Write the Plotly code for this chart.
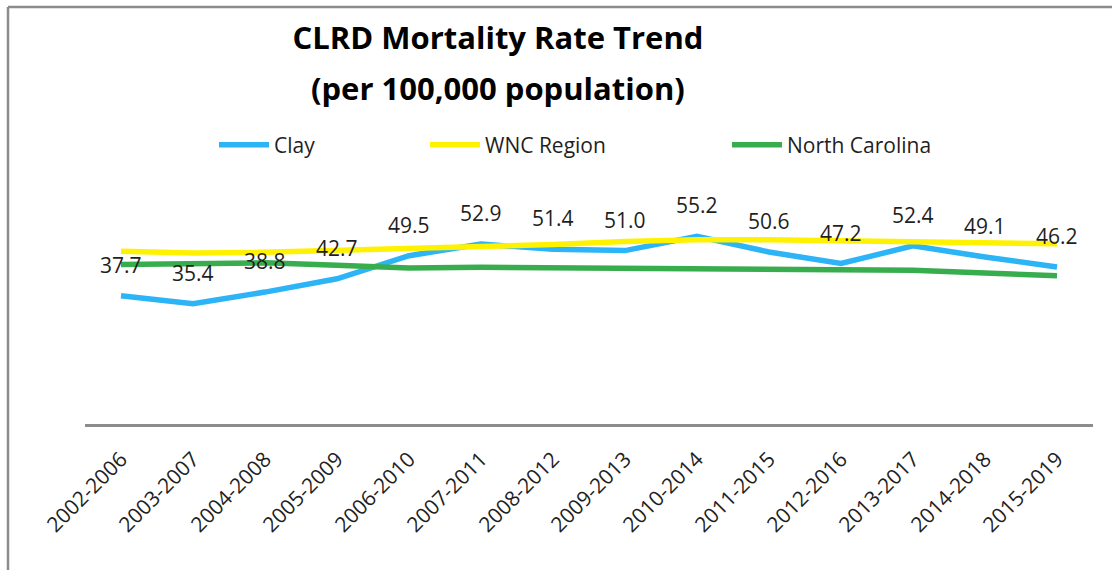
import plotly.graph_objects as go

periods = ["2002-2006", "2003-2007", "2004-2008", "2005-2009", "2006-2010", "2007-2011",
           "2008-2012", "2009-2013", "2010-2014", "2011-2015", "2012-2016", "2013-2017",
           "2014-2018", "2015-2019"]
clay = [37.7, 35.4, 38.8, 42.7, 49.5, 52.9, 51.4, 51.0, 55.2, 50.6, 47.2, 52.4, 49.1, 46.2]
wnc_region = [50.8, 50.3, 50.5, 51.1, 51.5, 52.0, 52.8, 53.7, 54.2, 54.2, 53.9, 53.7, 53.0, 53.0]
north_carolina = [46.9, 47.1, 47.4, 46.7, 45.9, 46.1, 46.0, 45.9, 45.7, 45.6, 45.3, 45.2, 44.4, 43.6]

W, H = 1112, 570
L, R, T, B = 85, 19, 186, 146
pw = W - L - R
ph = H - T - B

def px_to_paper_x(px):
    return (px - L) / pw

def px_to_paper_y(py):
    return (H - B - py) / ph

FONT = "Open Sans"
TXT = "#1f1f1f"

fig = go.Figure()
series = [
    ("Clay", clay, "#2DB4F6", "legend"),
    ("WNC Region", wnc_region, "#FFF200", "legend2"),
    ("North Carolina", north_carolina, "#38AD4E", "legend3"),
]
for name, vals, col, lg in series:
    fig.add_trace(go.Scatter(
        x=periods, y=vals, name=name, mode="lines",
        line=dict(color=col, width=5.5),
        legend=lg, hoverinfo="x+y+name",
    ))

for p, v in zip(periods, clay):
    fig.add_annotation(x=p, y=v, text=f"{v:.1f}", showarrow=False,
                       yshift=31, xanchor="center", yanchor="middle",
                       font=dict(family=FONT, size=21, color=TXT))

# second title line
fig.add_annotation(xref="paper", yref="paper", x=px_to_paper_x(498), y=px_to_paper_y(88),
                   text="<b>(per 100,000 population)</b>", showarrow=False,
                   xanchor="center", yanchor="middle",
                   font=dict(family=FONT, size=31, color="#000000"))

legend_common = dict(orientation="h", yanchor="middle", xanchor="left",
                     bgcolor="rgba(0,0,0,0)", itemwidth=50,
                     font=dict(family=FONT, size=21, color=TXT))
ly = px_to_paper_y(145)
fig.update_layout(
    legend=dict(x=px_to_paper_x(214), y=ly, **legend_common),
    legend2=dict(x=px_to_paper_x(425), y=ly, **legend_common),
    legend3=dict(x=px_to_paper_x(727), y=ly, **legend_common),
)

# chart frame (top and left edges)
fig.add_shape(type="line", xref="paper", yref="paper",
              x0=px_to_paper_x(8), x1=px_to_paper_x(W + 5), y0=px_to_paper_y(7), y1=px_to_paper_y(7),
              line=dict(color="#8c8c8c", width=2.5))
fig.add_shape(type="line", xref="paper", yref="paper",
              x0=px_to_paper_x(8), x1=px_to_paper_x(8), y0=px_to_paper_y(7), y1=px_to_paper_y(H + 5),
              line=dict(color="#8c8c8c", width=2.5))

fig.update_layout(
    width=W, height=H,
    margin=dict(l=L, r=R, t=T, b=B, pad=0),
    paper_bgcolor="white", plot_bgcolor="white",
    title=dict(text="<b>CLRD Mortality Rate Trend</b>", xref="paper", x=px_to_paper_x(498),
               xanchor="center", yref="container", y=1 - 38 / H, yanchor="middle",
               font=dict(family=FONT, size=31, color="#000000")),
    xaxis=dict(type="category", range=[-0.5, 13.5], showline=True, linecolor="#8c8c8c",
               linewidth=2.5, showgrid=False, zeroline=False, ticks="", tickangle=-45,
               ticklabelstandoff=12,
               tickfont=dict(family=FONT, size=21, color=TXT)),
    yaxis=dict(range=[0, 70], visible=False, showgrid=False, zeroline=False),
    showlegend=True,
)

fig.write_html("out.html", config={"displayModeBar": False},
               post_script="document.body.style.margin='0';document.body.style.overflow='hidden';")
